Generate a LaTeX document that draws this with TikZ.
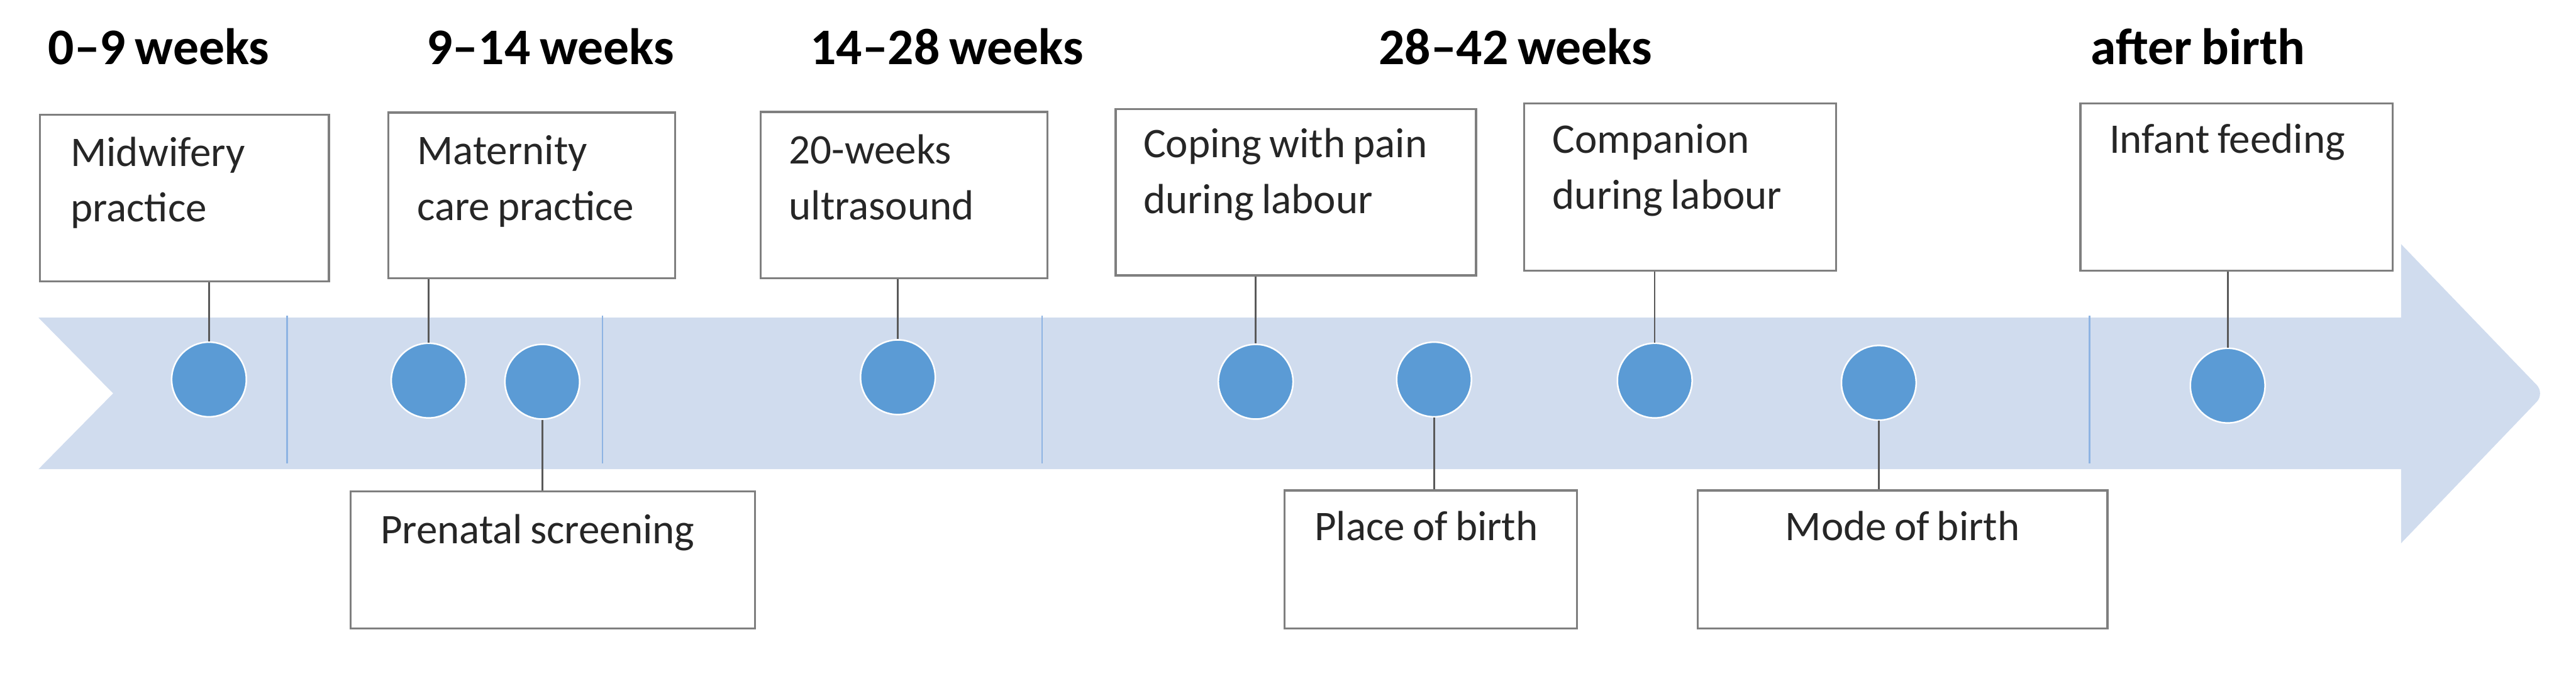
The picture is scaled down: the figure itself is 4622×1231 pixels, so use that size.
\documentclass[tikz,border=0pt]{standalone}
\usepackage{fontspec}
\setmainfont{Carlito}[WordSpace=0.8]
\usetikzlibrary{calc,positioning}
\definecolor{bandBlue}{HTML}{D0DCEE}
\definecolor{dotBlue}{HTML}{5B9BD5}
\definecolor{lineBlue}{HTML}{8EB4E3}
\definecolor{boxGray}{HTML}{7F7F7F}
\definecolor{stemGray}{HTML}{595959}
\definecolor{textGray}{HTML}{262626}

\begin{document}
\begin{tikzpicture}[
  x=0.01cm, y=-0.01cm,
  card/.style={draw=boxGray, line width=1.1pt, fill=white, anchor=north west, inner sep=0pt},
  cardtext/.style={anchor=base west, inner sep=0pt, text width=6.5cm, align=flush left,
    font=\fontsize{21.5}{28.5}\selectfont, text=textGray},
  phase/.style={anchor=base west, inner sep=0pt, font=\fontsize{26.2}{30}\selectfont\bfseries},
  dot/.style={circle, fill=dotBlue, draw=white, line width=0.8pt, minimum size=1.34cm, inner sep=0pt},
  stem/.style={stemGray, line width=0.85pt},
  divider/.style={lineBlue, line width=0.8pt},
]
\useasboundingbox (0,0) rectangle (4622,1231);

% --- Time band with arrow head ---
\fill[bandBlue] (69,570) -- (4308,570) -- (4308,438) [rounded corners=6pt] -- (4566,706)
  [sharp corners] -- (4308,975) -- (4308,842) -- (69,842) -- (203,706) -- cycle;
\foreach \x in {515, 1081, 1870, 3749} {
  \draw[divider] (\x,566) -- (\x,832);
}

% --- Phase headings ---
\node[phase] (ph1) at (86,116)   {0–9 weeks};
\node[phase] (ph2) at (765,116)  {9–14 weeks};
\node[phase] (ph3) at (1453,116) {14–28 weeks};
\node[phase] (ph4) at (2473,116) {28–42 weeks};
\node[phase] (ph5) at (3751,116) {after birth};

% --- Event dots ---
\foreach \n/\x/\y in {c1/375/681, c2/769/683, c3/973/685, c4/1611/677, c5/2253/685,
                      c6/2573/681, c7/2969/683, c8/3371/687, c9/3997/692} {
  \node[dot] (\n) at (\x,\y) {};
}

% --- Boxes above the band ---
\node[card, minimum width=5.18cm, minimum height=2.99cm] (midwife) at (70,204) {};
\node[card, minimum width=5.14cm, minimum height=2.97cm] (maternity) at (695,200) {};
\node[card, minimum width=5.14cm, minimum height=2.98cm] (ultra) at (1363,199) {};
\node[card, minimum width=6.46cm, minimum height=2.98cm] (coping) at (2000,194) {};
\node[card, minimum width=5.59cm, minimum height=3.00cm] (companion) at (2733,184) {};
\node[card, minimum width=5.60cm, minimum height=3.00cm] (infant) at (3731,184) {};

% --- Boxes below the band ---
\node[card, minimum width=7.25cm, minimum height=2.46cm] (prenatal) at (627,880) {};
\node[card, minimum width=5.24cm, minimum height=2.48cm] (place) at (2303,878) {};
\node[card, minimum width=7.35cm, minimum height=2.48cm] (mode) at (3044,878) {};

% --- Box texts ---
\node[cardtext] (midwife-t)   at ($(midwife.north west)+(56,94)$)   {Midwifery\\practice};
\node[cardtext] (maternity-t) at ($(maternity.north west)+(53,95)$) {Maternity\\care practice};
\node[cardtext] (ultra-t)     at ($(ultra.north west)+(52,95)$)     {20-weeks\\ultrasound};
\node[cardtext] (coping-t)    at ($(coping.north west)+(51,89)$)    {Coping with pain\\during labour};
\node[cardtext] (companion-t) at ($(companion.north west)+(52,91)$) {Companion\\during labour};
\node[cardtext] (infant-t)    at ($(infant.north west)+(53,91)$)    {Infant feeding};
\node[cardtext] (prenatal-t)  at ($(prenatal.north west)+(55,95)$)  {Prenatal screening};
\node[cardtext] (place-t)     at ($(place.north west)+(55,92)$)     {Place of birth};
\node[cardtext, anchor=base, text width=, align=center] (mode-t) at ($(mode.north)+(0,92)$) {Mode of birth};

% --- Stems from boxes to dots ---
\draw[stem] (c1 |- midwife.south)   -- (c1.north);
\draw[stem] (c2 |- maternity.south) -- (c2.north);
\draw[stem] (c4 |- ultra.south)     -- (c4.north);
\draw[stem] (c5 |- coping.south)    -- (c5.north);
\draw[stem] (c7 |- companion.south) -- (c7.north);
\draw[stem] (c9 |- infant.south)    -- (c9.north);
\draw[stem] (c3.south) -- (c3 |- prenatal.north);
\draw[stem] (c6.south) -- (c6 |- place.north);
\draw[stem] (c8.south) -- (c8 |- mode.north);

\end{tikzpicture}
\end{document}
